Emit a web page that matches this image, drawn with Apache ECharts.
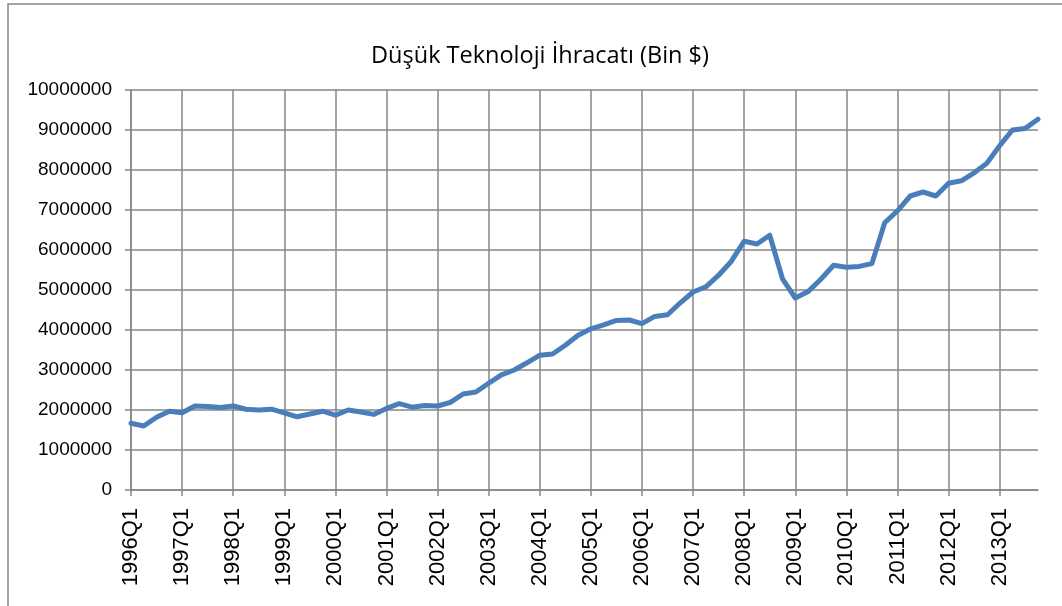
<!DOCTYPE html>
<html>
<head>
    <meta charset="UTF-8">
    <title></title>
    <script src="https://cdn.jsdelivr.net/npm/echarts@6/dist/echarts.min.js"></script>
    <style>
        html, body { margin: 0; padding: 0; background: #fff; }
        #container { width: 1062px; height: 606px; }
    </style>
</head>
<body>
    <div id="container"></div>
    <script type="text/javascript">
        var years = [];
        for (var y = 1996; y <= 2013; y++) {
            years.push(y);
        }
        var quarters = [];
        years.forEach(function (y) {
            quarters.push(y + 'Q1', y + 'Q2', y + 'Q3', y + 'Q4');
        });

        var exports = [
            1670000, 1600000, 1820000, 1970000,
            1930000, 2100000, 2090000, 2060000,
            2100000, 2020000, 2000000, 2020000,
            1930000, 1830000, 1900000, 1970000,
            1870000, 2000000, 1950000, 1890000,
            2040000, 2160000, 2070000, 2110000,
            2100000, 2190000, 2400000, 2450000,
            2670000, 2880000, 3000000, 3180000,
            3370000, 3400000, 3620000, 3870000,
            4030000, 4130000, 4240000, 4250000,
            4160000, 4340000, 4380000, 4680000,
            4950000, 5080000, 5370000, 5720000,
            6220000, 6150000, 6370000, 5280000,
            4800000, 4960000, 5270000, 5620000,
            5570000, 5590000, 5660000, 6680000,
            6980000, 7350000, 7450000, 7350000,
            7670000, 7730000, 7930000, 8170000,
            8610000, 9000000, 9040000, 9270000
        ];

        var titleText = 'Düşük Teknoloji İhracatı (Bin $)';
        var gridColor = '#868686';

        var chart = echarts.init(document.getElementById('container'));
        chart.setOption({
            animation: false,
            title: {
                text: titleText,
                left: 535,
                textAlign: 'center',
                top: 39,
                textStyle: {
                    fontFamily: 'Open Sans',
                    fontWeight: 'normal',
                    fontSize: 23.5,
                    color: '#000'
                }
            },
            graphic: [{
                type: 'rect',
                shape: { x: 8, y: 4, width: 1100, height: 700 },
                style: { fill: 'none', stroke: gridColor, lineWidth: 1.5 }
            }],
            grid: {
                left: 131,
                right: 24,
                top: 90,
                bottom: 116
            },
            xAxis: {
                type: 'category',
                boundaryGap: false,
                data: quarters,
                axisLine: { lineStyle: { color: gridColor, width: 1.5 } },
                axisTick: { interval: 3, length: 6, lineStyle: { color: gridColor, width: 1.5 } },
                splitLine: { show: true, interval: 3, lineStyle: { color: gridColor, width: 1.5 } },
                axisLabel: {
                    interval: 3,
                    rotate: 90,
                    margin: 18,
                    fontFamily: 'Liberation Sans',
                    fontSize: 22,
                    color: '#000'
                }
            },
            yAxis: {
                type: 'value',
                min: 0,
                max: 10000000,
                interval: 1000000,
                axisLine: { show: true, lineStyle: { color: gridColor, width: 1.5 } },
                axisTick: { show: true, length: 6, lineStyle: { color: gridColor, width: 1.5 } },
                splitLine: { show: true, lineStyle: { color: gridColor, width: 1.5 } },
                axisLabel: {
                    margin: 19,
                    fontFamily: 'Liberation Sans',
                    fontSize: 19,
                    color: '#000',
                    formatter: function (v) { return String(v); }
                }
            },
            series: [{
                type: 'line',
                data: exports,
                showSymbol: false,
                symbol: 'none',
                lineStyle: { color: '#4a7ebb', width: 5, join: 'round', cap: 'round' }
            }]
        });
    </script>
</body>
</html>
